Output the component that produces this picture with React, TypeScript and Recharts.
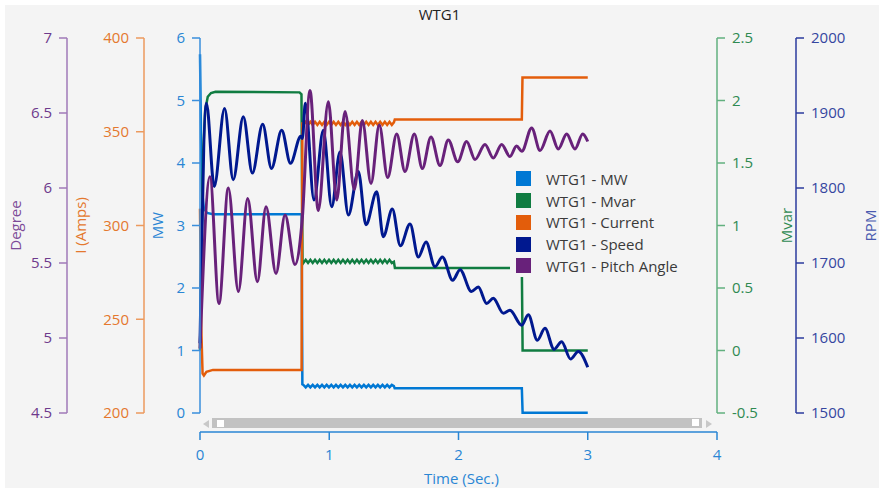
import React from "react";
import { LineChart, Line, XAxis, YAxis, Legend } from "recharts";

const FONT = "'Open Sans', 'Noto Sans', sans-serif";
const PANEL_BG = "#f4f4f4";
const X_COLOR = "#2a86d4";

// axis ticks
const xTicks = [0, 1, 2, 3, 4];
const mwTicks = [0, 1, 2, 3, 4, 5, 6];
const ampTicks = [200, 250, 300, 350, 400];
const degTicks = [4.5, 5, 5.5, 6, 6.5, 7];
const mvarTicks = [-0.5, 0, 0.5, 1, 1.5, 2, 2.5];
const rpmTicks = [1500, 1600, 1700, 1800, 1900, 2000];

const seriesNames = [
  "WTG1 - MW",
  "WTG1 - Mvar",
  "WTG1 - Current",
  "WTG1 - Speed",
  "WTG1 - Pitch Angle",
];

// small ripple on MW / Mvar / Current between the 0.79 s and 1.5 s events
const rippleTimes = [
  0.8, 0.818, 0.836, 0.854, 0.872, 0.89, 0.908, 0.926, 0.944, 0.962, 0.98,
  0.998, 1.016, 1.034, 1.052, 1.07, 1.088, 1.106, 1.124, 1.142, 1.16, 1.178,
  1.196, 1.214, 1.232, 1.25, 1.268, 1.286, 1.304, 1.322, 1.34, 1.358, 1.376,
  1.394, 1.412, 1.43, 1.448, 1.466, 1.484,
];
const mwRipple = [
  0.45, 0.41, 0.45, 0.41, 0.45, 0.41, 0.45, 0.41, 0.45, 0.41, 0.45, 0.41, 0.45,
  0.41, 0.45, 0.41, 0.45, 0.41, 0.45, 0.41, 0.45, 0.41, 0.45, 0.41, 0.45, 0.41,
  0.45, 0.41, 0.45, 0.41, 0.45, 0.41, 0.45, 0.41, 0.45, 0.41, 0.45, 0.41, 0.45,
];
const mvarRipple = [
  0.7, 0.725, 0.7, 0.725, 0.7, 0.725, 0.7, 0.725, 0.7, 0.725, 0.7, 0.725, 0.7,
  0.725, 0.7, 0.725, 0.7, 0.725, 0.7, 0.725, 0.7, 0.725, 0.7, 0.725, 0.7, 0.725,
  0.7, 0.725, 0.7, 0.725, 0.7, 0.725, 0.7, 0.725, 0.7, 0.725, 0.7, 0.725, 0.7,
];
const ampRipple = [
  353.6, 355.3, 353.6, 355.3, 353.6, 355.3, 353.6, 355.3, 353.6, 355.3, 353.6,
  355.3, 353.6, 355.3, 353.6, 355.3, 353.6, 355.3, 353.6, 355.3, 353.6, 355.3,
  353.6, 355.3, 353.6, 355.3, 353.6, 355.3, 353.6, 355.3, 353.6, 355.3, 353.6,
  355.3, 353.6, 355.3, 353.6, 355.3, 353.6,
];

// WTG1 - MW
const mwBefore: [number, number][] = [
  [0, 5.74], [0.008, 4.4], [0.016, 3.55], [0.03, 3.27], [0.055, 3.2],
  [0.1, 3.18], [0.786, 3.18], [0.792, 0.46],
];
const mwAfter: [number, number][] = [
  [1.5, 0.43], [1.506, 0.395], [2.49, 0.395], [2.496, 0.005], [3.0, 0.005],
];

// WTG1 - Mvar
const mvarBefore: [number, number][] = [
  [0, 0.0], [0.012, 0.9], [0.025, 1.6], [0.04, 1.92], [0.06, 2.03],
  [0.085, 2.06], [0.12, 2.07], [0.77, 2.065], [0.785, 2.05], [0.793, 0.72],
];
const mvarAfter: [number, number][] = [
  [1.5, 0.71], [1.508, 0.66], [2.49, 0.66], [2.496, 0.0], [3.0, 0.0],
];

// WTG1 - Current
const ampBefore: [number, number][] = [
  [0, 309], [0.01, 245], [0.02, 221], [0.03, 220], [0.05, 222], [0.1, 223],
  [0.786, 223], [0.792, 355],
];
const ampAfter: [number, number][] = [
  [1.5, 355], [1.507, 356.5], [2.49, 356.5], [2.495, 379], [3.0, 379],
];

// WTG1 - Speed (RPM)
const speedPoints: [number, number][] = [
  [0, 1593], [0.05, 1913], [0.11, 1802], [0.19, 1906], [0.257, 1811],
  [0.335, 1895], [0.405, 1820], [0.485, 1885], [0.553, 1826], [0.632, 1877],
  [0.7, 1833], [0.78, 1869], [0.792, 1866], [0.815, 1913], [0.882, 1784],
  [0.954, 1877], [1.019, 1775], [1.083, 1848], [1.148, 1764], [1.225, 1822],
  [1.284, 1751], [1.367, 1795], [1.418, 1735], [1.488, 1772], [1.55, 1723],
  [1.625, 1752], [1.689, 1708], [1.749, 1728], [1.818, 1695], [1.875, 1708],
  [1.955, 1677], [2.012, 1691], [2.1, 1662], [2.153, 1668], [2.218, 1646],
  [2.269, 1653], [2.347, 1633], [2.398, 1637], [2.489, 1617], [2.54, 1631],
  [2.61, 1597], [2.669, 1613], [2.739, 1585], [2.798, 1595], [2.867, 1572],
  [2.927, 1582], [3.0, 1561],
];

// WTG1 - Pitch Angle (Degree)
const pitchPoints: [number, number][] = [
  [0, 4.93], [0.077, 6.075], [0.147, 5.23], [0.219, 6.0], [0.297, 5.31],
  [0.369, 5.93], [0.444, 5.375], [0.511, 5.875], [0.588, 5.43], [0.658, 5.82],
  [0.735, 5.49], [0.79, 5.78], [0.851, 6.65], [0.915, 5.85], [0.993, 6.575],
  [1.058, 5.92], [1.122, 6.51], [1.194, 5.99], [1.256, 6.45], [1.323, 6.03],
  [1.387, 6.42], [1.452, 6.07], [1.522, 6.36], [1.586, 6.11], [1.658, 6.36],
  [1.72, 6.13], [1.787, 6.34], [1.857, 6.15], [1.921, 6.32], [1.994, 6.175],
  [2.063, 6.31], [2.128, 6.19], [2.205, 6.29], [2.269, 6.2], [2.334, 6.29],
  [2.398, 6.21], [2.449, 6.28], [2.49, 6.245], [2.566, 6.4], [2.631, 6.25],
  [2.708, 6.38], [2.772, 6.26], [2.837, 6.36], [2.901, 6.26], [2.961, 6.36],
  [3.0, 6.31],
];

const rows = (pts: [number, number][]) => pts.map(([t, v]) => ({ t, v }));
const withRipple = (
  before: [number, number][],
  ripple: number[],
  after: [number, number][]
) => [
  ...rows(before),
  ...rippleTimes.map((t, i) => ({ t, v: ripple[i] })),
  ...rows(after),
];

const mwData = withRipple(mwBefore, mwRipple, mwAfter);
const mvarData = withRipple(mvarBefore, mvarRipple, mvarAfter);
const ampData = withRipple(ampBefore, ampRipple, ampAfter);
const speedData = rows(speedPoints);
const pitchData = rows(pitchPoints);

const XTick = ({ x, y, payload }: any) => (
  <g>
    <line x1={x} x2={x} y1={y + 19} y2={y + 27} stroke={X_COLOR} strokeWidth={1.5} />
    <text x={x} y={y + 47} textAnchor="middle" fill={X_COLOR} fontSize={15}>
      {payload.value}
    </text>
  </g>
);

// rotated axis title, centred on a given x
const axisTitle = (text: string, color: string, cx: number) => (props: any) => {
  const vb = props?.viewBox;
  const cy = vb ? vb.y + vb.height / 2 : 220.5;
  return (
    <text
      x={cx}
      y={cy}
      transform={`rotate(-90 ${cx} ${cy})`}
      textAnchor="middle"
      dominantBaseline="central"
      fill={color}
      fontSize={15}
    >
      {text}
    </text>
  );
};

const LegendBox = ({ payload }: any) => {
  const items = [...(payload || [])].sort(
    (a: any, b: any) => seriesNames.indexOf(a.value) - seriesNames.indexOf(b.value)
  );
  return (
    <div style={{ background: PANEL_BG, width: 202, paddingLeft: 6, boxSizing: "border-box" }}>
      {items.map((e: any) => (
        <div key={e.value} style={{ display: "flex", alignItems: "center", height: 21.75 }}>
          <span style={{ width: 15, height: 15, background: e.color, marginRight: 15, flex: "none" }} />
          <span style={{ fontSize: 15, color: "#3a3a3a", whiteSpace: "nowrap" }}>{e.value}</span>
        </div>
      ))}
    </div>
  );
};

const yAxisStyle = (line: string, text: string) => ({
  axisLine: { stroke: line, strokeWidth: 1.5 },
  tickLine: { stroke: line, strokeWidth: 1.5 },
  tick: { fill: text, fontSize: 15 },
  tickSize: 8,
  tickMargin: 7,
  interval: 0 as const,
});

export default function App() {
  return (
    <div style={{ position: "absolute", left: 0, top: 0, width: 879, height: 490, background: "#fff", fontFamily: FONT }}>
      <div style={{ position: "absolute", left: 5, top: 5, width: 874, height: 483, background: PANEL_BG, overflow: "hidden" }}>
        <div style={{ position: "absolute", left: 0, top: 0, width: 869, textAlign: "center", fontSize: 15, lineHeight: "18px", color: "#222" }}>
          WTG1
        </div>
        <LineChart width={874} height={483} margin={{ top: 33, right: 0, bottom: 0, left: 0 }}>
          <XAxis
            dataKey="t"
            type="number"
            domain={[0, 4]}
            ticks={xTicks}
            interval={0}
            axisLine={false}
            tickLine={false}
            tickSize={0}
            tickMargin={0}
            height={75}
            tick={XTick}
            label={{ value: "Time (Sec.)", position: "center", dy: 28, dx: 3, fill: X_COLOR, fontSize: 15 }}
          />
          {/* ids are prefixed so the axes stack MW, I, Degree outwards on the left */}
          <YAxis yAxisId="a_mw" orientation="left" width={56} domain={[0, 6]} ticks={mwTicks}
            {...yAxisStyle("#3a8fdc", "#2a86d4")} label={axisTitle("MW", "#2a86d4", 152)} />
          <YAxis yAxisId="b_amp" orientation="left" width={77} domain={[200, 400]} ticks={ampTicks}
            {...yAxisStyle("#ec9a5e", "#e4782e")} label={axisTitle("I (Amps)", "#e4782e", 75)} />
          <YAxis yAxisId="c_deg" orientation="left" width={62} domain={[4.5, 7]} ticks={degTicks}
            {...yAxisStyle("#a07ab8", "#6e3a8c")} label={axisTitle("Degree", "#7d4b98", 10)} />
          <YAxis yAxisId="d_mvar" orientation="right" width={79} domain={[-0.5, 2.5]} ticks={mvarTicks}
            {...yAxisStyle("#62b07f", "#2f8a52")} label={axisTitle("Mvar", "#2f8a52", 781)} />
          <YAxis yAxisId="e_rpm" orientation="right" width={83} domain={[1500, 2000]} ticks={rpmTicks}
            {...yAxisStyle("#2b3b9e", "#3546a0")} label={axisTitle("RPM", "#4a5ab0", 865)} />
          <Legend
            layout="vertical"
            align="center"
            verticalAlign="middle"
            wrapperStyle={{ left: 505, top: 163, width: 202 }}
            content={LegendBox}
          />
          <Line yAxisId="a_mw" data={mwData} dataKey="v" name={seriesNames[0]} type="linear"
            stroke="#0078d4" strokeWidth={2.5} dot={false} isAnimationActive={false} />
          <Line yAxisId="d_mvar" data={mvarData} dataKey="v" name={seriesNames[1]} type="linear"
            stroke="#107c41" strokeWidth={2.5} dot={false} isAnimationActive={false} />
          <Line yAxisId="b_amp" data={ampData} dataKey="v" name={seriesNames[2]} type="linear"
            stroke="#e35d0b" strokeWidth={2.5} dot={false} isAnimationActive={false} />
          <Line yAxisId="e_rpm" data={speedData} dataKey="v" name={seriesNames[3]} type="monotone"
            stroke="#00188f" strokeWidth={3} dot={false} isAnimationActive={false} />
          <Line yAxisId="c_deg" data={pitchData} dataKey="v" name={seriesNames[4]} type="monotone"
            stroke="#68217a" strokeWidth={3} dot={false} isAnimationActive={false} />
        </LineChart>
        {/* x axis line drawn below the scroll bar, and the scroll bar itself */}
        <svg width={874} height={483} style={{ position: "absolute", left: 0, top: 0, pointerEvents: "none" }}>
          <line x1={195} x2={712} y1={427} y2={427} stroke={X_COLOR} strokeWidth={1.5} />
          <polygon points="198,419 204,415 204,423" fill="#c8c8c8" />
          <rect x={207} y={413} width={490} height={10} fill="#c2c2c2" />
          <rect x={212} y={415} width={7} height={7} fill="#fff" />
          <rect x={687} y={414} width={7} height={7} fill="#fff" />
          <polygon points="701,415 701,423 707,419" fill="#c8c8c8" />
        </svg>
      </div>
    </div>
  );
}
